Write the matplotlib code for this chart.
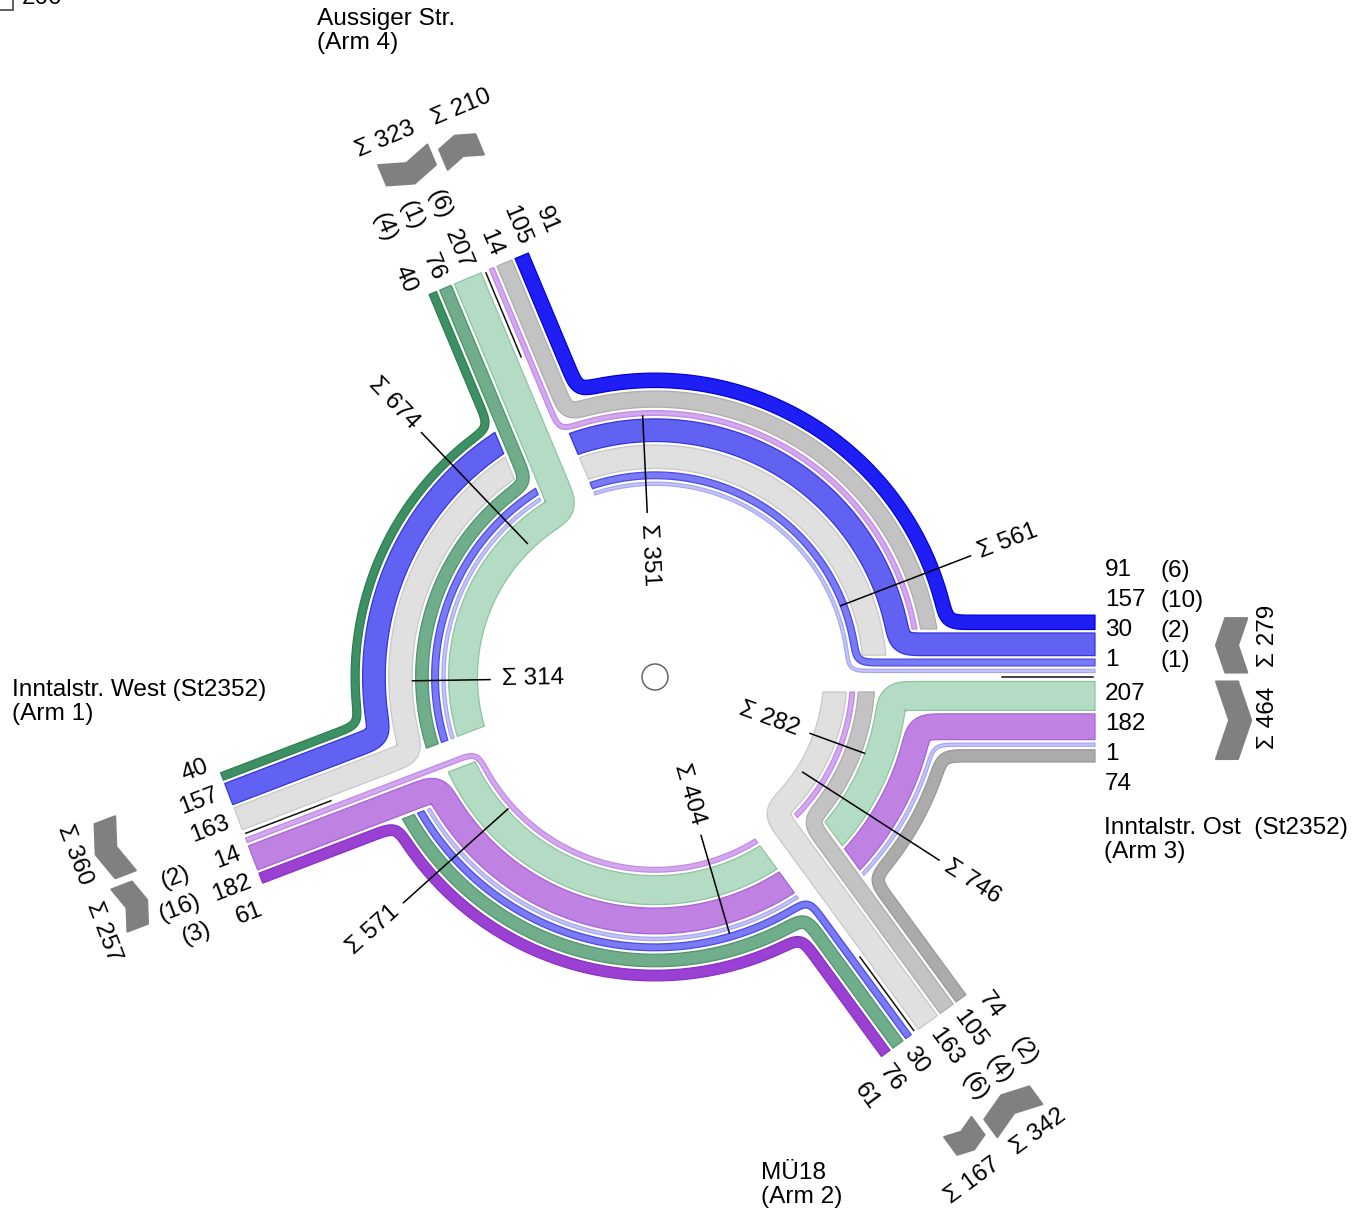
import numpy as np
import matplotlib.pyplot as plt
from matplotlib.patches import Polygon, Circle, Rectangle

plt.rcParams['font.family'] = ['Liberation Sans', 'DejaVu Sans']

# ---- data ---------------------------------------------------------------
# arms in counter-clockwise order, starting in the east
arm_order = [3, 4, 1, 2]
arm_titles = {3: 'Inntalstr. Ost  (St2352)\n(Arm 3)',
              4: 'Aussiger Str.\n(Arm 4)',
              1: 'Inntalstr. West (St2352)\n(Arm 1)',
              2: 'MÜ18\n(Arm 2)'}

# turning flows: from arm, to arm, vehicles, heavy vehicles
flow_from = [3, 3, 3, 3, 4, 4, 4, 1, 1, 1, 2, 2, 2]
flow_to = [4, 1, 2, 3, 1, 2, 3, 2, 3, 4, 3, 4, 1]
flow_veh = [91, 157, 30, 1, 40, 76, 207, 61, 182, 14, 74, 105, 163]
flow_heavy = [6, 10, 2, 1, 4, 1, 6, 3, 16, 2, 2, 4, 6]

# ---- layout / style -----------------------------------------------------
arm_angle = {3: 0.0, 4: 112.7, 1: 200.9, 2: 306.2}
sum_dist = {3: 613, 4: 600, 1: 606, 2: 594}
nxt = {3: 4, 4: 1, 1: 2, 2: 3}
CX, CY = 655, 677
L_ARM = 440
R_OUT = 304
GAP = 3.5
SIG = 9
FS = 17.5

colors = {(3, 4): ('#1f1ff5', '#0000dd'), (3, 1): ('#6262f2', '#3434e0'),
          (3, 2): ('#7a7af5', '#4a4ae8'), (3, 3): ('#c6c6fb', '#a6a6f3'),
          (4, 1): ('#3d9063', '#2e7d52'), (4, 2): ('#70ae8b', '#4f9470'),
          (4, 3): ('#b4dcc4', '#8cc4a2'), (1, 2): ('#9a40d2', '#8a30c4'),
          (1, 3): ('#bf82e2', '#a862d6'), (1, 4): ('#d4a8ee', '#c08ae6'),
          (2, 3): ('#ababab', '#999999'), (2, 4): ('#c3c3c3', '#adadad'),
          (2, 1): ('#e0e0e0', '#c8c8c8')}

# lane order at each arm, from the axis outwards
enter_order = {3: [(3, 3), (3, 2), (3, 1), (3, 4)], 4: [(4, 3), (4, 2), (4, 1)],
               1: [(1, 4), (1, 3), (1, 2)], 2: [(2, 1), (2, 4), (2, 3)]}
exit_order = {3: [(4, 3), (1, 3), (3, 3), (2, 3)], 4: [(1, 4), (2, 4), (3, 4)],
              1: [(2, 1), (3, 1), (4, 1)], 2: [(3, 2), (4, 2), (1, 2)]}
# ring order in each quadrant (named by the arm it starts at), outside -> inside
ring = {3: [(3, 4), (2, 4), (1, 4), (3, 1), (2, 1), (3, 2), (3, 3)],
        4: [(4, 1), (3, 1), (2, 1), (4, 2), (3, 2), (3, 3), (4, 3)],
        1: [(1, 2), (4, 2), (3, 2), (3, 3), (1, 3), (4, 3), (1, 4)],
        2: [(2, 3), (3, 3), (1, 3), (4, 3), (2, 4), (1, 4), (2, 1)]}

veh = {(a, b): v for a, b, v in zip(flow_from, flow_to, flow_veh)}
heavy = {(a, b): h for a, b, h in zip(flow_from, flow_to, flow_heavy)}
width = {k: 3 + 0.125 * v for k, v in veh.items()}


def u_(a):
    return np.array([np.cos(np.radians(a)), np.sin(np.radians(a))])


def n_(a):
    return u_(a + 90)


def img(p):
    p = np.atleast_2d(p)
    return np.column_stack([CX + p[:, 0], CY - p[:, 1]])


def readable(a):
    a = (a + 180) % 360 - 180
    if a > 90:
        a -= 180
    elif a <= -90:
        a += 180
    return a


# lane offsets
lane_in, lane_out, extent = {}, {}, {}
for arm in arm_order:
    for side, order, store in (('in', enter_order[arm], lane_in), ('out', exit_order[arm], lane_out)):
        s = 4.5
        for k in order:
            store[k] = s + width[k] / 2
            s += width[k] + GAP
        extent[(side, arm)] = s - GAP

# ring radii
radius, r_inner = {}, {}
for q, keys in ring.items():
    s = R_OUT
    for k in keys:
        radius[(q, k)] = s - width[k] / 2
        s -= width[k] + GAP
    r_inner[q] = s + GAP


def quads(k):
    q, seq = k[0], []
    while True:
        seq.append(q)
        if nxt[q] == k[1]:
            return seq
        q = nxt[q]


def arc(r, a0, a1):
    n = int(abs(a1 - a0) * r * np.pi / 180 / 1.5) + 2
    t = np.radians(np.linspace(a0, a1, n))
    return r * np.column_stack([np.cos(t), np.sin(t)])


def line(a, off, t0, t1):
    t = np.linspace(t0, t1, int(abs(t1 - t0) / 1.5) + 2)
    return np.outer(t, u_(a)) + off * n_(a)


def resample(p):
    d = np.hypot(*np.diff(p, axis=0).T)
    keep = np.concatenate([[True], d > 1e-9])
    p = p[keep]
    s = np.concatenate([[0], np.cumsum(np.hypot(*np.diff(p, axis=0).T))])
    ss = np.linspace(0, s[-1], max(int(s[-1]), 3))
    return np.column_stack([np.interp(ss, s, p[:, 0]), np.interp(ss, s, p[:, 1])])


def smooth(p, sig):
    p = resample(p)
    k = int(3 * sig)
    t0 = p[0] - p[1]
    t0 /= np.hypot(*t0)
    t1 = p[-1] - p[-2]
    t1 /= np.hypot(*t1)
    ext = np.vstack([p[0] + np.outer(np.arange(k, 0, -1), t0), p,
                     p[-1] + np.outer(np.arange(1, k + 1), t1)])
    x = np.arange(-k, k + 1)
    g = np.exp(-x ** 2 / (2 * sig ** 2))
    g /= g.sum()
    return np.column_stack([np.convolve(ext[:, 0], g, 'valid'),
                            np.convolve(ext[:, 1], g, 'valid')])


def ribbon(p, w):
    t = np.gradient(p, axis=0)
    t /= np.hypot(t[:, 0], t[:, 1])[:, None]
    nv = np.column_stack([-t[:, 1], t[:, 0]])
    return np.vstack([p + nv * w / 2, (p - nv * w / 2)[::-1]])


def clip(poly, nv, c):
    out = []
    vals = poly @ nv - c
    m = len(poly)
    for i in range(m):
        a, b = poly[i], poly[(i + 1) % m]
        va, vb = vals[i], vals[(i + 1) % m]
        if va >= 0:
            out.append(a)
        if (va >= 0) != (vb >= 0):
            out.append(a + (b - a) * va / (va - vb))
    return np.array(out)


def c_start(q, r):
    c = 15
    for k in enter_order[q]:
        if radius[(q, k)] < r:
            c = max(c, lane_in[k] + width[k] / 2 + 4)
    return c


def c_end(q, r):
    c = 15
    for k in exit_order[nxt[q]]:
        if radius[(q, k)] < r:
            c = max(c, lane_out[k] + width[k] / 2 + 4)
    return c


fig = plt.figure(figsize=(13.69, 12.13), dpi=100)
ax = fig.add_axes([0, 0, 1, 1])
ax.set_xlim(0, 1369)
ax.set_ylim(1213, 0)
ax.axis('off')

# ---- flow bands -----------------------------------------------------------
for k in veh:
    seq = quads(k)
    w = width[k]
    for i, q in enumerate(seq):
        r = radius[(q, k)]
        ta = arm_angle[q]
        tb = arm_angle[nxt[q]]
        if tb <= ta:
            tb += 360
        parts = []
        if i == 0:
            d = lane_in[k]
            parts.append(line(ta, d, L_ARM, np.sqrt(r * r - d * d)))
            a0 = ta + np.degrees(np.arcsin(d / r))
        else:
            a0 = ta - 8
        if i == len(seq) - 1:
            d2 = lane_out[k]
            a1 = tb - np.degrees(np.arcsin(d2 / r))
        else:
            a1 = tb + 8
        parts.append(arc(r, a0, a1))
        if i == len(seq) - 1:
            parts.append(line(tb, -d2, np.sqrt(r * r - d2 * d2), L_ARM))
        poly = ribbon(smooth(np.vstack(parts), SIG), w)
        if i > 0:
            poly = clip(poly, n_(ta), c_start(q, r))
        if i < len(seq) - 1:
            poly = clip(poly, -n_(tb), c_end(q, r))
        fc, ec = colors[k]
        ax.add_patch(Polygon(img(poly), closed=True, facecolor=fc, edgecolor=ec,
                             lw=0.9, joinstyle='round'))

# ---- arms: separators, labels, chevrons, sums ----------------------------
for arm in arm_order:
    th = arm_angle[arm]
    u, nv = u_(th), n_(th)
    sep = img(np.array([347 * u, 438 * u]))
    ax.plot(sep[:, 0], sep[:, 1], color='#111111', lw=1.1)

    flip = 90 < th % 360 < 270
    rot = readable(th)
    ha = 'right' if flip else 'left'
    for side, order, sgn in (('in', enter_order[arm], 1), ('out', exit_order[arm], -1)):
        for j, k in enumerate(order):
            p = img(450 * u + sgn * (16.5 + 30 * j) * nv)[0]
            ax.text(p[0], p[1], str(veh[k]), fontsize=FS, rotation=rot, ha=ha,
                    va='center', rotation_mode='anchor')
            if side == 'in':
                p = img(505 * u + (16.5 + 30 * j) * nv)[0]
                ax.text(p[0], p[1], '(%d)' % heavy[k], fontsize=FS, rotation=rot,
                        ha=ha, va='center', rotation_mode='anchor')

        lo, hi = 4.5, extent[(side, arm)] - 3
        mid = (lo + hi) / 2
        pd = 0.17 * (hi - lo)
        T, a0 = 22, sum_dist[arm] - 52
        if side == 'in':
            loc = [(a0 + pd, lo), (a0 + pd + T, lo), (a0 + T, mid),
                   (a0 + pd + T, hi), (a0 + pd, hi), (a0, mid)]
        else:
            loc = [(a0, lo), (a0 + T, lo), (a0 + T + pd, mid),
                   (a0 + T, hi), (a0, hi), (a0 + pd, mid)]
        pts = np.array([a * u + sgn * b * nv for a, b in loc])
        ax.add_patch(Polygon(img(pts), closed=True, facecolor='#808080',
                             edgecolor='#808080', lw=1.5, joinstyle='round'))
        tot = sum(veh[k] for k in order)
        p = img(sum_dist[arm] * u + sgn * 41 * nv)[0]
        ax.text(p[0], p[1], 'Σ %d' % tot, fontsize=FS, rotation=readable(th - 90),
                ha='center', va='center', rotation_mode='anchor')

# ---- section sums inside the roundabout ----------------------------------
for q in arm_order:
    ta = arm_angle[q]
    tb = arm_angle[nxt[q]]
    if tb <= ta:
        tb += 360
    total = sum(veh[k] for k in ring[q])
    ao = ta + 21
    seg = img(np.array([(r_inner[q] + 7) * u_(ao), 338 * u_(ao)]))
    ax.plot(seg[:, 0], seg[:, 1], color='black', lw=1.1)
    p = img(378 * u_(ao))[0]
    ax.text(p[0], p[1], 'Σ %d' % total, fontsize=FS, rotation=readable(ao),
            ha='center', va='center', rotation_mode='anchor')

    cont = [k for k in ring[q] if k[1] != nxt[q]]
    edge = radius[(q, cont[0])] + width[cont[0]] / 2 + 3
    ai = tb - 20
    seg = img(np.array([edge * u_(ai), 165 * u_(ai)]))
    ax.plot(seg[:, 0], seg[:, 1], color='black', lw=1.1)
    p = img(122 * u_(ai))[0]
    ax.text(p[0], p[1], 'Σ %d' % sum(veh[k] for k in cont), fontsize=FS,
            rotation=readable(ai), ha='center', va='center', rotation_mode='anchor')

ax.add_patch(Circle((CX, CY), 13, facecolor='white', edgecolor='#666666', lw=1.1))

# ---- arm names ----------------------------------------------------------
title_pos = {4: (317, 8), 3: (1104, 817), 1: (12, 679), 2: (761, 1162)}
for arm, (x, y) in title_pos.items():
    ax.text(x, y, arm_titles[arm], fontsize=17.6, ha='left', va='top', linespacing=1.1)

# scale box, cut at the top edge
ax.add_patch(Rectangle((-20, -20), 33, 30, facecolor='none', edgecolor='#333333', lw=1.1))
ax.text(22, 4, '200', fontsize=FS, ha='left', va='baseline')

fig.savefig('out.png', dpi=100)
